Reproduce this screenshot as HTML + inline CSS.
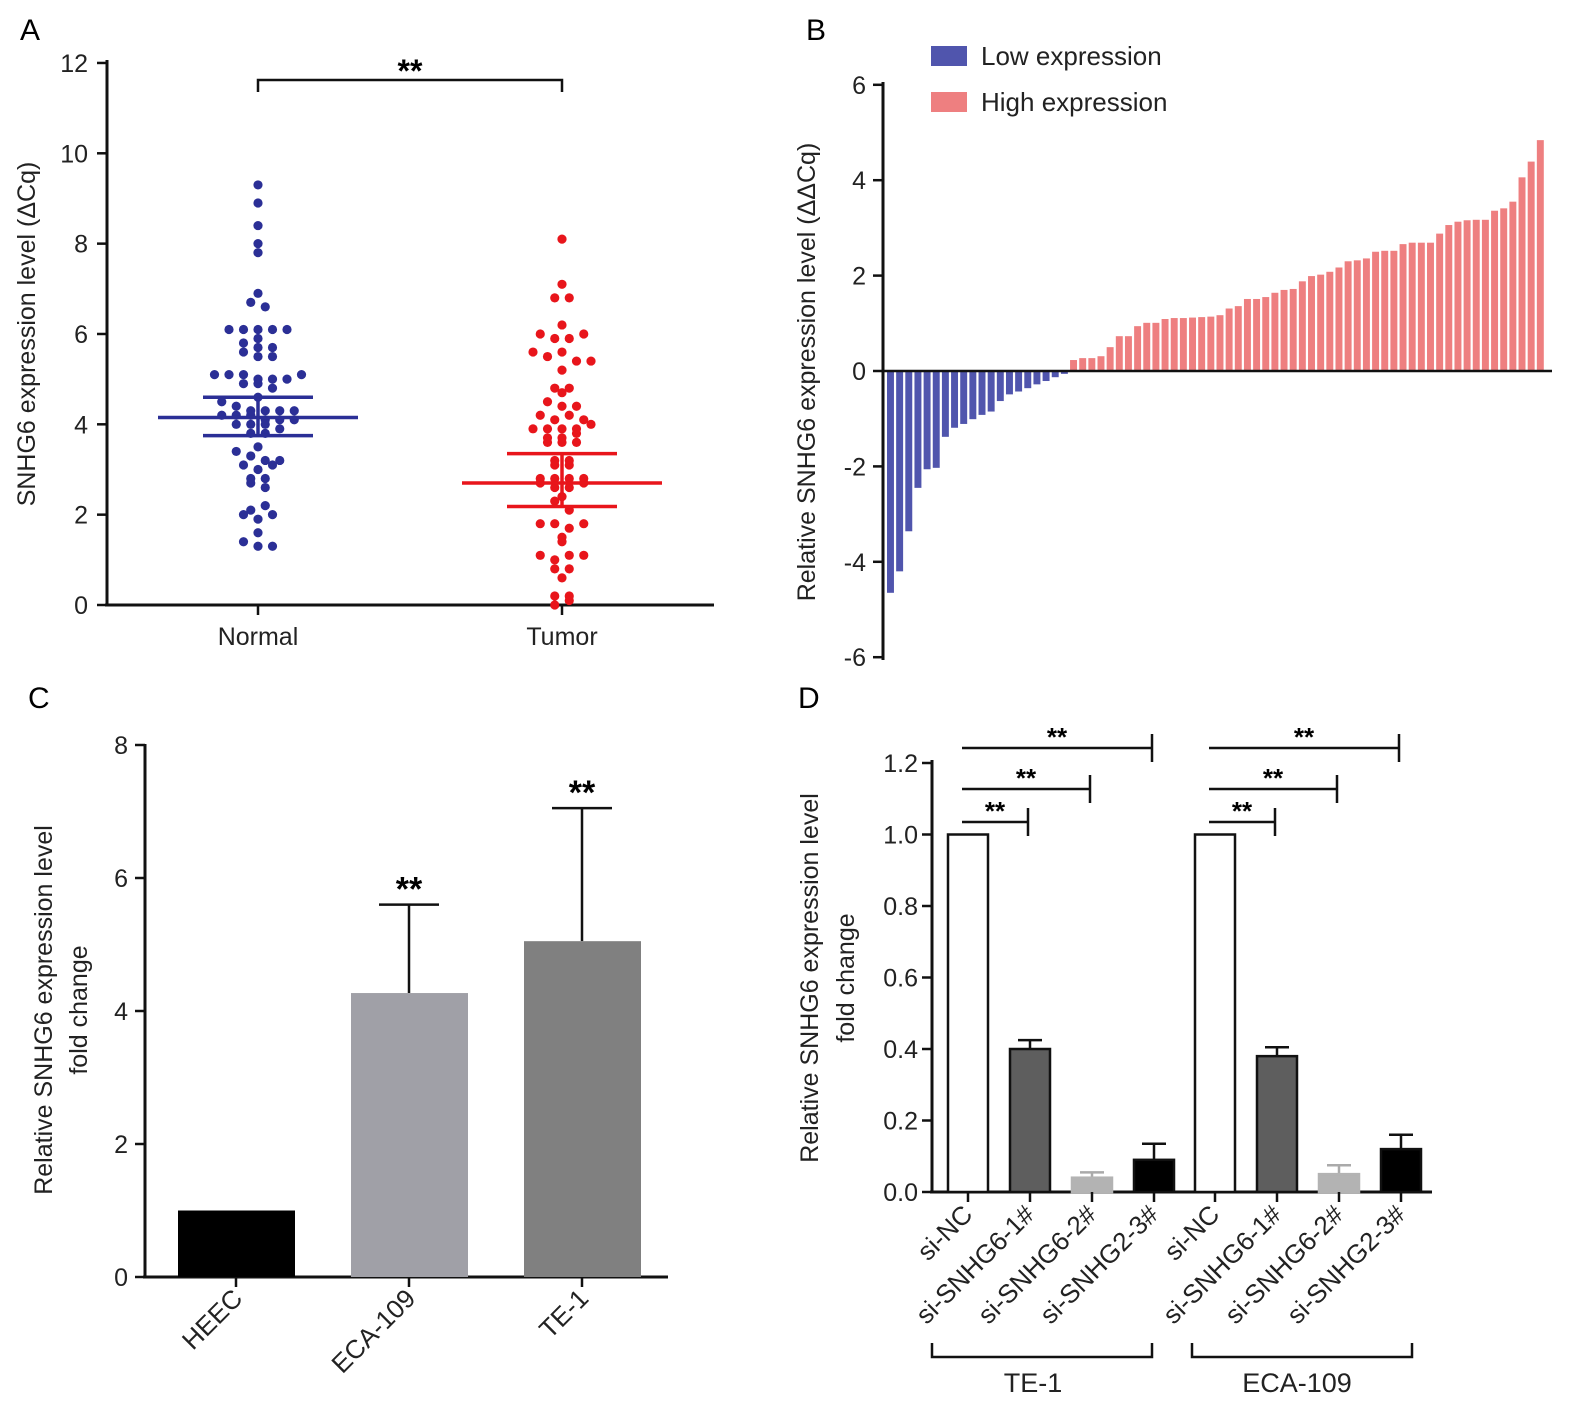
<!DOCTYPE html>
<html><head><meta charset="utf-8">
<style>
html,body{margin:0;padding:0;background:#fff;}
svg{display:block;font-family:"Liberation Sans",Arial,sans-serif;}
</style></head>
<body>
<svg id="fig" width="1576" height="1416" viewBox="0 0 1576 1416" xmlns="http://www.w3.org/2000/svg"></svg>
<script>
// ---------- Panel A data ----------
const aNormal = [9.3,8.9,8.4,8.0,7.8,6.9,6.7,6.6,6.1,6.1,6.1,6.1,6.1,5.9,5.8,5.7,5.7,5.6,5.5,5.5,5.1,5.1,5.1,5.0,5.0,5.0,4.9,4.9,4.8,5.1,4.6,4.5,4.4,4.3,4.3,4.2,4.2,4.2,4.3,4.3,4.1,4.0,4.0,4.1,4.0,4.1,3.8,3.8,3.9,3.5,3.4,3.3,3.2,3.2,3.1,3.0,3.1,2.8,2.7,2.6,2.8,2.1,2.0,1.9,2.0,2.2,1.6,1.4,1.3,1.3];
const aTumor = [8.1,7.1,6.8,6.8,6.2,6.0,5.9,5.9,6.0,5.6,5.5,5.6,5.4,5.4,5.2,4.8,4.7,4.8,4.5,4.4,4.4,4.2,4.1,4.2,4.1,3.9,3.9,3.9,3.9,4.0,3.7,3.6,3.6,3.6,3.7,3.8,3.2,3.1,3.1,3.2,2.8,2.8,2.7,2.6,2.6,2.8,2.7,2.8,2.4,2.3,2.1,1.8,1.8,1.7,1.8,1.5,1.4,1.1,1.0,1.1,1.1,0.8,0.8,0.6,0.2,0.2,0.0,0.1];
const aMean = [4.15, 2.7];
const aSemHi = [4.6, 3.35];
const aSemLo = [3.75, 2.18];
const aCats = ["Normal","Tumor"];
const aTicks = [0,2,4,6,8,10,12];
// ---------- Panel B data ----------
const bLow = [-4.65,-4.2,-3.36,-2.45,-2.06,-2.03,-1.38,-1.19,-1.11,-1.01,-0.92,-0.85,-0.63,-0.49,-0.43,-0.36,-0.28,-0.21,-0.13,-0.06];
const bHigh = [0.23,0.27,0.27,0.31,0.50,0.73,0.73,0.94,1.01,1.01,1.09,1.11,1.11,1.12,1.13,1.14,1.17,1.31,1.36,1.51,1.51,1.55,1.64,1.70,1.72,1.88,1.99,2.02,2.08,2.17,2.30,2.32,2.36,2.50,2.52,2.52,2.66,2.69,2.69,2.69,2.88,3.06,3.13,3.16,3.17,3.17,3.36,3.41,3.55,4.06,4.39,4.84];
const bTicks = [-6,-4,-2,0,2,4,6];
// ---------- Panel C data ----------
const cCats = ["HEEC","ECA-109","TE-1"];
const cVals = [1.0, 4.27, 5.05];
const cErr = [0, 1.33, 2.0];
const cSig = ["", "**", "**"];
const cTicks = [0,2,4,6,8];
// ---------- Panel D data ----------
const dCats = ["si-NC","si-SNHG6-1#","si-SNHG6-2#","si-SNHG2-3#","si-NC","si-SNHG6-1#","si-SNHG6-2#","si-SNHG2-3#"];
const dVals = [1.0,0.40,0.04,0.09,1.0,0.38,0.05,0.12];
const dErr = [0,0.025,0.015,0.045,0,0.025,0.025,0.04];
const dTicks = [0.0,0.2,0.4,0.6,0.8,1.0,1.2];
const dGroups = ["TE-1","ECA-109"];

const NS="http://www.w3.org/2000/svg";
const svg=document.getElementById('fig');
function el(tag,attrs,parent,text){const e=document.createElementNS(NS,tag);for(const k in attrs)e.setAttribute(k,attrs[k]);if(text!==undefined)e.textContent=text;(parent||svg).appendChild(e);return e;}
function grp(name){const g=el('g',{});return g;}

// ===== Panel A =====
(function(){
const g=grp('panel-a');
const y=v=>605-v*45.17;
const cx=[258,562];
const t=el('text',{x:20,y:40,'font-size':30},g,'A');
el('line',{x1:107,y1:60,x2:107,y2:606,stroke:'#111','stroke-width':3},g);
el('line',{x1:105,y1:605,x2:714,y2:605,stroke:'#111','stroke-width':3},g);
aTicks.forEach(v=>{el('line',{x1:97,x2:107,y1:y(v),y2:y(v),stroke:'#111','stroke-width':2.5},g);
 const tx=el('text',{x:88,y:y(v)+9,'font-size':25,'text-anchor':'end',fill:'#222'},g,v);});
aCats.forEach((c,i)=>{el('line',{x1:cx[i],x2:cx[i],y1:605,y2:615,stroke:'#111','stroke-width':2.5},g);
 const tx=el('text',{x:cx[i],y:645,'font-size':25,'text-anchor':'middle',fill:'#222'},g,c);});
const yt=el('text',{transform:'translate(35,334) rotate(-90)','font-size':25,'text-anchor':'middle',fill:'#222'},g,'SNHG6 expression level (ΔCq)');
el('path',{d:'M258,92 V80 H562 V92',fill:'none',stroke:'#111','stroke-width':2.5},g);
el('text',{x:410,y:82,'font-size':32,'font-weight':'bold','text-anchor':'middle'},g,'**');
const colors=['#2b2f96','#e8151b'];
[aNormal,aTumor].forEach((arr,i)=>{
 const bins={};
 arr.forEach(v=>{const k=Math.round(v/0.22);(bins[k]=bins[k]||[]).push(v);});
 Object.keys(bins).forEach(k=>{const list=bins[k];const n=list.length;
  list.forEach((v,j)=>{const off=(j-(n-1)/2)*14.5;
   const d=el('circle',{cx:cx[i]+off,cy:y(v),r:4.6,fill:colors[i]},g);
   
   });});
 const ln=el('line',{x1:cx[i]-100,x2:cx[i]+100,y1:y(aMean[i]),y2:y(aMean[i]),stroke:colors[i],'stroke-width':3.5},g);
 
 el('line',{x1:cx[i]-55,x2:cx[i]+55,y1:y(aSemHi[i]),y2:y(aSemHi[i]),stroke:colors[i],'stroke-width':3.5},g);
 el('line',{x1:cx[i]-55,x2:cx[i]+55,y1:y(aSemLo[i]),y2:y(aSemLo[i]),stroke:colors[i],'stroke-width':3.5},g);
 el('line',{x1:cx[i],x2:cx[i],y1:y(aSemHi[i]),y2:y(aSemLo[i]),stroke:colors[i],'stroke-width':3.5},g);
});
})();

// ===== Panel B =====
(function(){
const g=grp('panel-b');
const y=v=>371-v*47.7;
const t=el('text',{x:806,y:40,'font-size':30},g,'B');
el('line',{x1:883,y1:82,x2:883,y2:660,stroke:'#111','stroke-width':3},g);
bTicks.forEach(v=>{el('line',{x1:873,x2:883,y1:y(v),y2:y(v),stroke:'#111','stroke-width':2.5},g);
 const tx=el('text',{x:866,y:y(v)+9,'font-size':25,'text-anchor':'end',fill:'#222'},g,v);});
const yt=el('text',{transform:'translate(815,372) rotate(-90)','font-size':25,'text-anchor':'middle',fill:'#222'},g,'Relative SNHG6 expression level (ΔΔCq)');
const all=bLow.concat(bHigh);const step=(1545-886)/all.length;
all.forEach((v,i)=>{const x=886+i*step;const b=el('rect',{x:x+1,width:step-2.2,y:Math.min(y(0),y(v)),height:Math.abs(y(v)-y(0)),fill:v<0?'#5055ad':'#ee7f80'},g);
 });
el('line',{x1:883,y1:371,x2:1552,y2:371,stroke:'#111','stroke-width':2.5},g);
const l1=el('rect',{x:931,y:46,width:36,height:20,fill:'#5055ad'},g);
el('text',{x:981,y:65,'font-size':26,fill:'#222'},g,'Low expression');
const l2=el('rect',{x:931,y:92,width:36,height:20,fill:'#ee7f80'},g);
el('text',{x:981,y:111,'font-size':26,fill:'#222'},g,'High expression');
})();

// ===== Panel C =====
(function(){
const g=grp('panel-c');
const y=v=>1277-v*66.5;
const t=el('text',{x:28,y:708,'font-size':30},g,'C');
el('line',{x1:145,y1:744,x2:145,y2:1278,stroke:'#111','stroke-width':3},g);
el('line',{x1:143,y1:1277,x2:668,y2:1277,stroke:'#111','stroke-width':3},g);
cTicks.forEach(v=>{el('line',{x1:135,x2:145,y1:y(v),y2:y(v),stroke:'#111','stroke-width':2.5},g);
 const tx=el('text',{x:128,y:y(v)+9,'font-size':25,'text-anchor':'end',fill:'#222'},g,v);});
const yt=el('text',{transform:'translate(52,1010) rotate(-90)','font-size':25,'text-anchor':'middle',fill:'#222'},g,'Relative SNHG6 expression level');
const yt2=el('text',{transform:'translate(87,1010) rotate(-90)','font-size':25,'text-anchor':'middle',fill:'#222'},g,'fold change');
const fills=['#000','#a0a0a7','#808080'];
cCats.forEach((c,i)=>{const cx=236+i*173;
 if(cErr[i]>0){el('line',{x1:cx,x2:cx,y1:y(cVals[i]),y2:y(cVals[i]+cErr[i]),stroke:'#111','stroke-width':2.5},g);
  el('line',{x1:cx-30,x2:cx+30,y1:y(cVals[i]+cErr[i]),y2:y(cVals[i]+cErr[i]),stroke:'#111','stroke-width':2.5},g);}
 const b=el('rect',{x:cx-58,width:117,y:y(cVals[i]),height:y(0)-y(cVals[i]),fill:fills[i]},g);
 
 if(cSig[i])el('text',{x:cx,y:y(cVals[i]+cErr[i])-4,'font-size':34,'font-weight':'bold','text-anchor':'middle'},g,cSig[i]);
 el('line',{x1:cx,x2:cx,y1:1277,y2:1287,stroke:'#111','stroke-width':2.5},g);
 const tx=el('text',{transform:`translate(${cx+8},${1300}) rotate(-45)`,'font-size':26,'text-anchor':'end',fill:'#222'},g,c);
});
})();

// ===== Panel D =====
(function(){
const g=grp('panel-d');
const y=v=>1192-v*357.5;
const t=el('text',{x:798,y:708,'font-size':30},g,'D');
el('line',{x1:932,y1:760,x2:932,y2:1193,stroke:'#111','stroke-width':3},g);
el('line',{x1:930,y1:1192,x2:1432,y2:1192,stroke:'#111','stroke-width':3},g);
dTicks.forEach(v=>{el('line',{x1:922,x2:932,y1:y(v),y2:y(v),stroke:'#111','stroke-width':2.5},g);
 const tx=el('text',{x:918,y:y(v)+9,'font-size':25,'text-anchor':'end',fill:'#222'},g,v.toFixed(1));});
const yt=el('text',{transform:'translate(818,978) rotate(-90)','font-size':25,'text-anchor':'middle',fill:'#222'},g,'Relative SNHG6 expression level');
const yt2=el('text',{transform:'translate(854,978) rotate(-90)','font-size':25,'text-anchor':'middle',fill:'#222'},g,'fold change');
const fills=['#fff','#5e5e5e','#b3b3b3','#000'];
const cxs=[];
dCats.forEach((c,i)=>{const cx=968+(i%4)*62+Math.floor(i/4)*247;cxs.push(cx);
 if(dErr[i]>0){el('line',{x1:cx,x2:cx,y1:y(dVals[i]),y2:y(dVals[i]+dErr[i]),stroke:i%4==2?'#aaa':'#111','stroke-width':2.5},g);
  el('line',{x1:cx-12,x2:cx+12,y1:y(dVals[i]+dErr[i]),y2:y(dVals[i]+dErr[i]),stroke:i%4==2?'#aaa':'#111','stroke-width':2.5},g);}
 const b=el('rect',{x:cx-20,width:40,y:y(dVals[i]),height:y(0)-y(dVals[i]),fill:fills[i%4],stroke:i%4==2?'#b3b3b3':'#111','stroke-width':2.5},g);
 
 el('line',{x1:cx,x2:cx,y1:1192,y2:1202,stroke:'#111','stroke-width':2.5},g);
 const tx=el('text',{transform:`translate(${cx+6},${1216}) rotate(-45)`,'font-size':26,'text-anchor':'end',fill:'#222'},g,c);
});
[0,4].forEach(s=>{const x0=cxs[s]-6;
 [[1,822],[2,789],[3,748]].forEach(([k,yy])=>{const x1=cxs[s+k]-2;
  const p=el('path',{d:`M${x0},${yy} H${x1} M${x1},${yy-14} V${yy+14}`,fill:'none',stroke:'#111','stroke-width':2.5},g);
  
  el('text',{x:(x0+x1)/2,y:yy-2,'font-size':26,'font-weight':'bold','text-anchor':'middle'},g,'**');});
});
[[932,1152,1033],[1192,1412,1297]].forEach(([a,b,c],i)=>{
 const p=el('path',{d:`M${a},1343 V1357 H${b} V1343`,fill:'none',stroke:'#111','stroke-width':2.5},g);
 
 const tx=el('text',{x:c,y:1392,'font-size':27,'text-anchor':'middle',fill:'#222'},g,dGroups[i]);
});
})();
</script>
</body></html>
